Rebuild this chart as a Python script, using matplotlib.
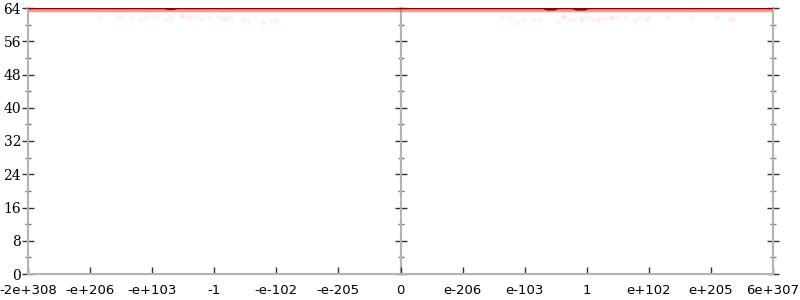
import numpy as np
import matplotlib.pyplot as plt

# x is in flonum ordinal units (one unit per tick step)
tick_pos = [-6, -5, -4, -3, -2, -1, 0, 1, 2, 3, 4, 5, 6]
tick_lbl = ['-2e+308', '-e+206', '-e+103', '-1', '-e-102', '-e-205', '0',
            'e-206', 'e-103', '1', 'e+102', 'e+205', '6e+307']

# main precision line (bits), with its small dips
line_x = [-6, -3.80, -3.74, -3.66, -3.60, 2.30, 2.36, 2.48, 2.54,
          2.77, 2.83, 2.97, 3.03, 6]
line_y = [64, 64, 63.8, 63.8, 64, 64, 63.7, 63.7, 64,
          64, 63.7, 63.7, 64, 64]

# faint sample points below the line
pts_x = [-4.85, -4.56, -4.49, -4.33, -4.20, -4.11, -4.01, -3.93, -3.80, -3.72,
         -3.69, -3.54, -3.51, -3.43, -3.37, -3.30, -3.22, -3.08, -2.95, -2.88,
         -2.82, -2.75, -2.54, -2.46, -2.22, -2.08, -2.01,
         1.63, 1.76, 1.87, 1.98, 2.14, 2.24, 2.53, 2.61, 2.64, 2.72, 2.80,
         2.90, 2.93, 3.01, 3.09, 3.16, 3.20, 3.28, 3.37, 3.41, 3.49, 3.64,
         3.77, 3.85, 3.95, 4.01, 4.30, 4.70, 5.10, 5.30, 5.35]
pts_y = [62.1, 62.1, 62.1, 61.6, 61.1, 61.8, 62.3, 61.8, 61.4, 61.1,
         62.1, 62.1, 62.3, 61.6, 62.1, 62.1, 61.4, 61.8, 62.1, 61.6,
         61.4, 61.8, 61.4, 60.9, 60.6, 61.1, 60.9,
         61.6, 61.6, 60.4, 61.4, 61.1, 61.1, 60.9, 61.8, 62.1, 61.1, 61.4,
         61.8, 61.1, 61.8, 61.4, 61.1, 61.6, 61.4, 61.8, 61.6, 61.6, 61.8,
         61.1, 61.8, 61.4, 61.6, 61.8, 62.1, 61.8, 61.4, 61.4]

band_x = [-6, 6]
band_y = [63.45, 63.45]

grey = '#b4b4b4'

fig = plt.figure(figsize=(8, 3), dpi=100)
ax = fig.add_axes([28/800, 26/300, 745/800, 266/300])

ax.scatter(pts_x, pts_y, s=14, color='red', alpha=0.05, lw=0)
ax.plot(band_x, band_y, color='#ff3030', alpha=0.5, lw=2.5, solid_capstyle='butt')
ax.plot(line_x, line_y, color='#8b0000', lw=1.8, solid_capstyle='butt', zorder=5)

ax.set_xlim(-6, 6)
ax.set_ylim(0, 64)

for s in ['left', 'right', 'bottom']:
    ax.spines[s].set_color(grey)
    ax.spines[s].set_linewidth(1.5)
ax.spines['top'].set_visible(False)

ax.set_xticks(tick_pos)
ax.set_xticklabels(tick_lbl, fontsize=9.5, family='DejaVu Sans')
ax.tick_params(axis='x', direction='in', length=5, width=1, color='#333333', pad=7)

ax.set_yticks(np.arange(0, 65, 8))
ax.set_yticks(np.arange(4, 64, 8), minor=True)
ax.tick_params(axis='y', which='major', direction='inout', length=8, width=1,
               color='#333333', right=True, pad=1)
ax.tick_params(axis='y', which='minor', direction='inout', length=4, width=1,
               color='#777777', right=True)
for lbl in ax.get_yticklabels():
    lbl.set_family('DejaVu Serif')
    lbl.set_fontsize(10)

# the middle axis at x = 0
mid = ax.secondary_yaxis(0.5)
for s in mid.spines.values():
    s.set_color(grey)
    s.set_linewidth(1.5)
mid.set_yticks(np.arange(0, 65, 8))
mid.set_yticks(np.arange(4, 64, 8), minor=True)
mid.yaxis.set_ticklabels([])
mid.tick_params(which='major', direction='inout', length=8, width=1,
                color='#333333', labelleft=False, labelright=False)
mid.tick_params(which='minor', direction='inout', length=4, width=1,
                color='#777777')

fig.savefig('out.png', dpi=100)
